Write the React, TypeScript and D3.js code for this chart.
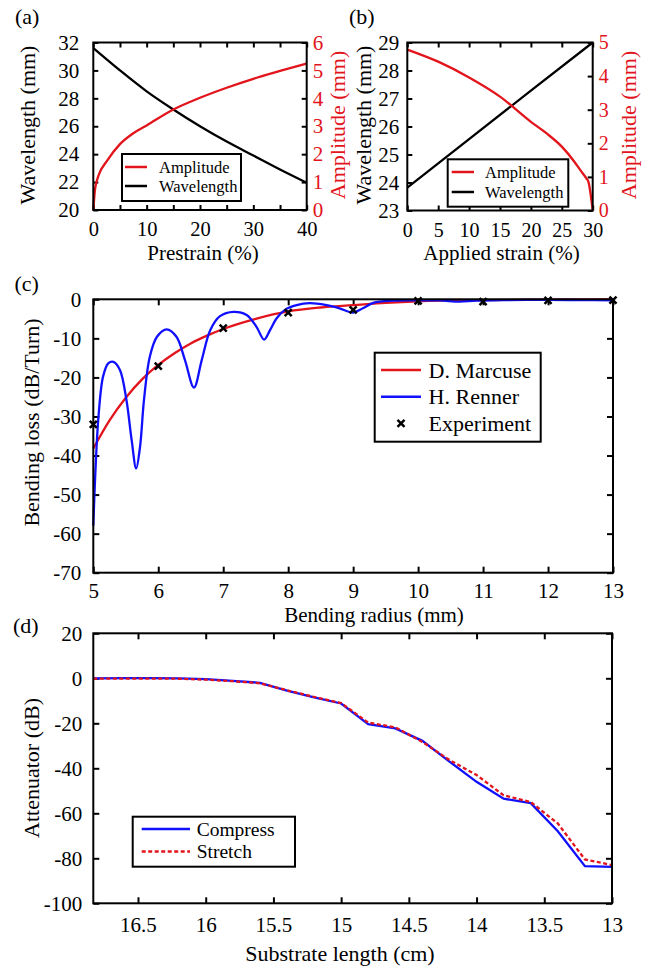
import { useEffect, useRef } from 'react';
import * as d3 from 'd3';

const FONT = '"Liberation Serif", "Times New Roman", serif';
const RED = '#e2141c';
const BLUE = '#1010ff';

// (a) amplitude / wavelength vs prestrain
const prestrainAmp = [0, 0.3, 0.6, 1, 2.5, 5, 7.5, 10, 15, 20, 25, 30, 35, 40];
const amplitudeA = [0, 0.7, 1.0, 1.25, 1.74, 2.36, 2.75, 3.03, 3.6, 4.02, 4.38, 4.7, 4.98, 5.25];
const prestrainWl = [0, 5, 10, 15, 20, 25, 30, 35, 40];
const wavelengthA = [31.6, 30.0, 28.5, 27.2, 26.0, 24.9, 23.9, 22.9, 21.95];

// (b) amplitude / wavelength vs applied strain
const appliedAmp = [0, 5, 10, 15, 20, 22.5, 25, 27, 28, 29, 29.3, 30];
const amplitudeB = [4.79, 4.43, 3.96, 3.39, 2.64, 2.3, 1.9, 1.46, 1.2, 0.95, 0.86, 0];
const appliedWl = [0, 10, 20, 30];
const wavelengthB = [23.82, 25.55, 27.28, 29.0];

// (c) bending loss vs bending radius
const marcuseR = [5, 5.25, 5.5, 5.75, 6, 6.25, 6.5, 6.75, 7, 7.5, 8, 8.5, 9, 9.5, 10, 11, 12, 13];
const marcuseLoss = [-38.2, -31, -25.2, -20.5, -16.8, -13.8, -11.3, -9.3, -7.6, -5, -3.1, -2.1, -1.5, -0.9, -0.5, -0.2, -0.1, 0];
const rennerR = [5, 5.03, 5.08, 5.15, 5.23, 5.31, 5.41, 5.51, 5.59, 5.66, 5.72, 5.78, 5.87, 5.98, 6.13, 6.28, 6.41, 6.55, 6.67, 6.8, 6.95, 7.16, 7.36, 7.51, 7.63, 7.72, 7.82, 7.95, 8.13, 8.33, 8.59, 8.79, 9.0, 9.15, 9.31, 9.62, 10, 10.33, 10.64, 10.89, 11.3, 12, 12.5, 13];
const rennerLoss = [-58, -45, -30, -19.8, -16.4, -16, -18.1, -25.8, -36, -43.3, -37.7, -25.8, -14.7, -9.6, -7.7, -9.6, -15.5, -22.6, -15.5, -7.9, -4.3, -3.2, -4, -7, -10.3, -7.9, -4.9, -2.7, -1.5, -1.0, -1.5, -2.3, -3.4, -2.3, -0.9, -0.35, -0.3, -0.3, -0.6, -0.35, -0.2, -0.15, -0.2, -0.25];
const experimentR = [5, 6, 7, 8, 9, 10, 11, 12, 13];
const experimentLoss = [-32, -17.1, -7.4, -3.4, -2.7, -0.4, -0.6, -0.3, -0.2];

// (d) attenuator vs substrate length
const substrateLength = [16.83, 16.6, 16.4, 16.2, 16.0, 15.8, 15.6, 15.4, 15.2, 15.0, 14.8, 14.6, 14.4, 14.2, 14.0, 13.8, 13.6, 13.4, 13.2, 13.0];
const compress = [0, 0.1, 0.1, 0, -0.4, -1.1, -2.0, -5.5, -8.5, -11.2, -20.4, -22.3, -27.8, -37, -46, -53.5, -55.5, -68, -83.5, -83.8];
const stretch = [-0.2, -0.1, -0.1, -0.2, -0.6, -1.3, -2.2, -5.3, -8.3, -11.0, -19.7, -21.8, -28.3, -36.3, -43, -52, -55, -64.5, -80.5, -83];

const fmt = (d: d3.NumberValue) => String(d);

function addAxis(root: any, axis: any, tx: number, ty: number, color = '#000', size = 22) {
  const a = root.append('g').attr('transform', `translate(${tx},${ty})`).call(axis);
  a.attr('font-family', FONT).attr('font-size', size);
  a.select('.domain').remove();
  a.selectAll('line').attr('stroke', '#000').attr('stroke-width', 2);
  a.selectAll('text').attr('fill', color);
  return a;
}

function text(root: any, s: string, x: number, y: number, o: { size?: number; anchor?: string; rotate?: boolean; color?: string } = {}) {
  root.append('text')
    .attr('transform', `translate(${x},${y})${o.rotate ? ' rotate(-90)' : ''}`)
    .attr('dy', '0.35em')
    .attr('text-anchor', o.anchor ?? 'middle')
    .attr('font-family', FONT)
    .attr('font-size', o.size ?? 22)
    .attr('fill', o.color ?? '#000')
    .text(s);
}

function box(root: any, x: any, y: any) {
  const [x0, x1] = x.range();
  const [y0, y1] = y.range();
  root.append('rect')
    .attr('x', Math.min(x0, x1)).attr('y', Math.min(y0, y1))
    .attr('width', Math.abs(x1 - x0)).attr('height', Math.abs(y1 - y0))
    .attr('fill', 'none').attr('stroke', '#000').attr('stroke-width', 2);
}

function curve(root: any, xs: number[], ys: number[], x: any, y: any, color: string, c: any, dash?: string) {
  const pts: [number, number][] = xs.map((v, i) => [v, ys[i]]);
  root.append('path')
    .datum(pts)
    .attr('fill', 'none')
    .attr('stroke', color)
    .attr('stroke-width', 2.3)
    .attr('stroke-dasharray', dash ?? null)
    .attr('d', d3.line<[number, number]>().x((d) => x(d[0])).y((d) => y(d[1])).curve(c));
}

function legend(root: any, bx: number, by: number, bw: number, bh: number, items: { label: string; color: string; kind: string; y: number }[], lx0: number, lx1: number, tx: number, size: number) {
  root.append('rect').attr('x', bx).attr('y', by).attr('width', bw).attr('height', bh)
    .attr('fill', '#fff').attr('stroke', '#000').attr('stroke-width', 2);
  items.forEach((it) => {
    if (it.kind === 'marker') {
      root.append('path')
        .attr('transform', `translate(${(lx0 + lx1) / 2},${it.y})`)
        .attr('d', d3.symbol(d3.symbolX, 34)())
        .attr('stroke', it.color).attr('stroke-width', 2.5).attr('fill', 'none');
    } else {
      root.append('line').attr('x1', lx0).attr('x2', lx1).attr('y1', it.y).attr('y2', it.y)
        .attr('stroke', it.color).attr('stroke-width', 2.5)
        .attr('stroke-dasharray', it.kind === 'dash' ? '4,2.5' : null);
    }
    text(root, it.label, tx, it.y, { size, anchor: 'start' });
  });
}

export default function App() {
  const svgRef = useRef<SVGSVGElement>(null);

  useEffect(() => {
    const svg = d3.select(svgRef.current);
    svg.selectAll('*').remove();

    // ---- (a)
    const xA = d3.scaleLinear().domain([0, 40]).range([93.3, 306.7]);
    const yAL = d3.scaleLinear().domain([20, 32]).range([210, 42.5]);
    const yAR = d3.scaleLinear().domain([0, 6]).range([210, 42.5]);
    const tA = d3.range(0, 41, 5);
    addAxis(svg, d3.axisBottom(xA).tickValues(tA).tickSizeInner(-5).tickSizeOuter(0).tickPadding(11)
      .tickFormat((d) => (+d % 10 === 0 ? fmt(d) : '')), 0, 210, '#000', 20.5);
    addAxis(svg, d3.axisTop(xA).tickValues(tA).tickSizeInner(-5).tickSizeOuter(0).tickFormat(() => ''), 0, 42.5);
    addAxis(svg, d3.axisLeft(yAL).tickValues(d3.range(20, 33, 2)).tickSizeInner(-5).tickSizeOuter(0).tickPadding(14).tickFormat(fmt), 93.3, 0, '#000', 21);
    addAxis(svg, d3.axisRight(yAR).tickValues(d3.range(0, 7)).tickSizeInner(-5).tickSizeOuter(0).tickPadding(6).tickFormat(fmt), 306.7, 0, RED, 21);
    curve(svg, prestrainWl, wavelengthA, xA, yAL, '#000', d3.curveMonotoneX);
    curve(svg, prestrainAmp, amplitudeA, xA, yAR, RED, d3.curveMonotoneX);
    box(svg, xA, yAL);
    legend(svg, 122, 154, 119, 47, [
      { label: 'Amplitude', color: RED, kind: 'line', y: 167 },
      { label: 'Wavelength', color: '#000', kind: 'line', y: 186 },
    ], 125, 147, 159, 16.5);
    text(svg, '(a)', 15, 16.5, { anchor: 'start' });
    text(svg, 'Prestrain (%)', 203, 253, { size: 21 });
    text(svg, 'Wavelength (mm)', 27, 125, { rotate: true });
    text(svg, 'Amplitude (mm)', 337.5, 125, { rotate: true, color: RED });

    // ---- (b)
    const xB = d3.scaleLinear().domain([0, 30]).range([407.3, 592.7]);
    const yBL = d3.scaleLinear().domain([23, 29]).range([210.5, 42.5]);
    const yBR = d3.scaleLinear().domain([0, 5]).range([210.5, 42.5]);
    const tB = d3.range(0, 31, 5);
    addAxis(svg, d3.axisBottom(xB).tickValues(tB).tickSizeInner(-5).tickSizeOuter(0).tickPadding(12.5).tickFormat(fmt), 0, 210.5, '#000', 20);
    addAxis(svg, d3.axisTop(xB).tickValues(tB).tickSizeInner(-5).tickSizeOuter(0).tickFormat(() => ''), 0, 42.5);
    addAxis(svg, d3.axisLeft(yBL).tickValues(d3.range(23, 30)).tickSizeInner(-5).tickSizeOuter(0).tickPadding(8).tickFormat(fmt), 407.3, 0, '#000', 21);
    addAxis(svg, d3.axisRight(yBR).tickValues(d3.range(0, 6)).tickSizeInner(-5).tickSizeOuter(0).tickPadding(6).tickFormat(fmt), 592.7, 0, RED, 20);
    curve(svg, appliedWl, wavelengthB, xB, yBL, '#000', d3.curveLinear);
    curve(svg, appliedAmp, amplitudeB, xB, yBR, RED, d3.curveMonotoneX);
    box(svg, xB, yBL);
    legend(svg, 447.7, 159.3, 120.6, 47.4, [
      { label: 'Amplitude', color: RED, kind: 'line', y: 172 },
      { label: 'Wavelength', color: '#000', kind: 'line', y: 192 },
    ], 451.7, 474, 485, 16.5);
    text(svg, '(b)', 349, 16.5, { anchor: 'start' });
    text(svg, 'Applied strain (%)', 501.5, 253, { size: 21 });
    text(svg, 'Wavelength (mm)', 363, 125, { rotate: true });
    text(svg, 'Amplitude (mm)', 628.5, 125, { rotate: true, color: RED });

    // ---- (c)
    const xC = d3.scaleLinear().domain([5, 13]).range([93.3, 613]);
    const yC = d3.scaleLinear().domain([-70, 0]).range([572.7, 299.3]);
    const tCx = d3.range(5, 14);
    const tCy = d3.range(-70, 1, 10);
    addAxis(svg, d3.axisBottom(xC).tickValues(tCx).tickSizeInner(-6).tickSizeOuter(0).tickPadding(10.2).tickFormat(fmt), 0, 572.7, '#000', 21);
    addAxis(svg, d3.axisTop(xC).tickValues(tCx).tickSizeInner(-6).tickSizeOuter(0).tickFormat(() => ''), 0, 299.3);
    addAxis(svg, d3.axisLeft(yC).tickValues(tCy).tickSizeInner(-6).tickSizeOuter(0).tickPadding(12).tickFormat(fmt), 93.3, 0, '#000', 21);
    addAxis(svg, d3.axisRight(yC).tickValues(tCy).tickSizeInner(-6).tickSizeOuter(0).tickFormat(() => ''), 613, 0);
    curve(svg, marcuseR, marcuseLoss, xC, yC, RED, d3.curveMonotoneX);
    curve(svg, rennerR, rennerLoss, xC, yC, BLUE, d3.curveCatmullRom);
    svg.append('g').selectAll('path')
      .data(experimentR.map((r, i) => [r, experimentLoss[i]]))
      .join('path')
      .attr('transform', (d) => `translate(${xC(d[0])},${yC(d[1])})`)
      .attr('d', d3.symbol(d3.symbolX, 34)())
      .attr('stroke', '#000').attr('stroke-width', 2.5).attr('fill', 'none');
    box(svg, xC, yC);
    legend(svg, 374.7, 352.7, 166, 89, [
      { label: 'D. Marcuse', color: RED, kind: 'line', y: 370 },
      { label: 'H. Renner', color: BLUE, kind: 'line', y: 396.7 },
      { label: 'Experiment', color: '#000', kind: 'marker', y: 423.3 },
    ], 381, 421, 428.6, 22);
    text(svg, '(c)', 14.5, 283, { anchor: 'start' });
    text(svg, 'Bending radius (mm)', 374, 615, { size: 21 });
    text(svg, 'Bending loss (dB/Turn)', 31, 422.5, { rotate: true });

    // ---- (d)
    const xD = d3.scaleLinear().domain([16.83, 13]).range([93.3, 612]);
    const yD = d3.scaleLinear().domain([-100, 20]).range([903.3, 633.3]);
    const tDx = [16.5, 16, 15.5, 15, 14.5, 14, 13.5, 13];
    const tDy = d3.range(-100, 21, 20);
    addAxis(svg, d3.axisBottom(xD).tickValues(tDx).tickSizeInner(-6).tickSizeOuter(0).tickPadding(13.4).tickFormat(fmt), 0, 903.3, '#000', 21);
    addAxis(svg, d3.axisTop(xD).tickValues(tDx).tickSizeInner(-6).tickSizeOuter(0).tickFormat(() => ''), 0, 633.3);
    addAxis(svg, d3.axisLeft(yD).tickValues(tDy).tickSizeInner(-6).tickSizeOuter(0).tickPadding(11).tickFormat(fmt), 93.3, 0, '#000', 21);
    addAxis(svg, d3.axisRight(yD).tickValues(tDy).tickSizeInner(-6).tickSizeOuter(0).tickFormat(() => ''), 612, 0);
    curve(svg, substrateLength, compress, xD, yD, BLUE, d3.curveLinear);
    curve(svg, substrateLength, stretch, xD, yD, RED, d3.curveLinear, '4,2.5');
    box(svg, xD, yD);
    legend(svg, 132.7, 816.7, 162.3, 50, [
      { label: 'Compress', color: BLUE, kind: 'line', y: 829 },
      { label: 'Stretch', color: RED, kind: 'dash', y: 851.5 },
    ], 141.7, 190, 196.7, 19.5);
    text(svg, '(d)', 13, 625, { anchor: 'start' });
    text(svg, 'Substrate length (cm)', 340, 953);
    text(svg, 'Attenuator (dB)', 31, 768, { rotate: true });
  }, []);

  return (
    <div style={{ position: 'absolute', left: 0, top: 0 }}>
      <svg ref={svgRef} width={651} height={969} style={{ display: 'block', background: '#fff' }} />
    </div>
  );
}
